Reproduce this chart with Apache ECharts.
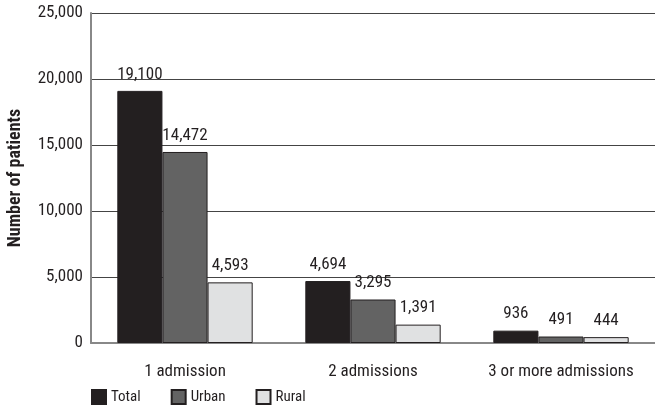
<!DOCTYPE html>
<html>
<head>
<meta charset="utf-8">
<script src="https://cdn.jsdelivr.net/npm/echarts@6/dist/echarts.min.js"></script>
<style>
  html, body { margin: 0; padding: 0; background: #fff; }
  #chart { width: 655px; height: 406px; }
</style>
</head>
<body>
<div id="chart"></div>
<script>
  const categories = ['1 admission', '2 admissions', '3 or more admissions'];
  const totalValues = [19100, 4694, 936];
  const urbanValues = [14472, 3295, 491];
  const ruralValues = [4593, 1391, 444];

  const font = '"Liberation Sans Narrow", "Roboto Condensed", Roboto, sans-serif';
  const fmt = v => v.toLocaleString('en-US');

  const chart = echarts.init(document.getElementById('chart'));
  const bar = (name, data, color) => ({
    name, type: 'bar', data, barGap: 0, barCategoryGap: '28%',
    itemStyle: { color, borderColor: '#231f20', borderWidth: 1 },
    label: { show: true, position: 'top', distance: 8, color: '#231f20', fontFamily: font, fontSize: 17,
      formatter: p => fmt(p.value) }
  });
  chart.setOption({
    animation: false,
    textStyle: { fontFamily: font },
    grid: { left: 91, right: 0, top: 13, bottom: 63, outerBoundsMode: 'none', containLabel: false },
    legend: {
      left: 86, bottom: -4, itemWidth: 14, itemHeight: 14, itemGap: 30, icon: 'rect',
      textStyle: { fontFamily: font, fontSize: 15, color: '#231f20' },
      data: ['Total', 'Urban', 'Rural']
    },
    xAxis: {
      type: 'category', data: categories,
      axisLine: { lineStyle: { color: '#888', width: 2 } },
      axisTick: { show: false },
      axisLabel: { interval: 0, fontFamily: font, fontSize: 17, color: '#231f20', margin: 20 }
    },
    yAxis: {
      type: 'value', min: 0, max: 25000, interval: 5000,
      name: 'Number of patients', nameLocation: 'middle', nameGap: 67,
      nameTextStyle: { fontFamily: font, fontSize: 18, fontWeight: 'bold', color: '#231f20' },
      axisLine: { show: true, lineStyle: { color: '#888', width: 2 } },
      axisTick: { show: false },
      axisLabel: { fontFamily: font, fontSize: 17, color: '#231f20', margin: 8, formatter: fmt },
      splitLine: { lineStyle: { color: '#444', width: 1 } }
    },
    series: [
      bar('Total', totalValues, '#231f20'),
      bar('Urban', urbanValues, '#636363'),
      bar('Rural', ruralValues, '#e0e1e2')
    ]
  });
</script>
</body>
</html>
